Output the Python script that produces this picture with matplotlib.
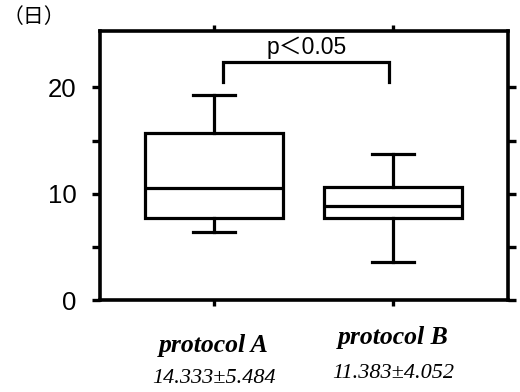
import matplotlib
matplotlib.use("Agg")
import matplotlib.pyplot as plt

categories = ["protocol A", "protocol B"]
summary = ["14.333±5.484", "11.383±4.052"]
whislo = [6.4, 3.6]
q1 = [7.7, 7.7]
med = [10.5, 8.8]
q3 = [15.7, 10.6]
whishi = [19.3, 13.7]
p_text = "p＜0.05"
y_unit = "（日）"

fig = plt.figure(figsize=(5.2, 3.92), dpi=100)
ax = fig.add_axes([100/520, 1-300/392, 408/520, 269/392])

stats = []
for i in range(len(categories)):
    stats.append(dict(med=med[i], q1=q1[i], q3=q3[i], whislo=whislo[i],
                      whishi=whishi[i], fliers=[], label=categories[i]))

lw = 2.3
ax.bxp(stats, positions=[1, 2], widths=0.77, showfliers=False,
       patch_artist=True,
       boxprops=dict(facecolor="white", edgecolor="black", linewidth=lw),
       medianprops=dict(color="black", linewidth=lw),
       whiskerprops=dict(color="black", linewidth=lw),
       capprops=dict(color="black", linewidth=lw),
       capwidths=0.235)

ax.set_xlim(0.363, 2.642)
ax.set_ylim(0, 25.3)

for s in ax.spines.values():
    s.set_linewidth(2.6)

ax.set_yticks([0, 5, 10, 15, 20])
ax.set_yticklabels(["0", "", "10", "", "20"], fontfamily="Liberation Sans", fontsize=18.5)
ax.tick_params(axis="y", which="both", direction="out", length=6, width=2.4,
               right=True, left=True, pad=11)
ax.set_xticks([1, 2])
ax.set_xticklabels(["", ""])
ax.tick_params(axis="x", direction="out", length=4, width=2.4, top=True, bottom=True)

# significance bracket
ax.plot([1.05, 1.05, 1.98, 1.98], [20.5, 22.4, 22.4, 20.5], color="black",
        linewidth=2.3, solid_joinstyle="miter", clip_on=False)
ax.text(1.52, 23.75, p_text, ha="center", va="center", fontsize=16.5,
        fontfamily=["Liberation Sans", "Noto Sans CJK JP"])

fig.text(3/520, 1-17/392, y_unit, ha="left", va="center",
         fontsize=15, fontfamily=["Noto Sans CJK JP", "DejaVu Sans"])

# x labels
label_y = [-0.17, -0.14]
stat_y = [-0.29, -0.275]
for i, c in enumerate(categories):
    ax.text(i + 1, label_y[i], c, transform=ax.get_xaxis_transform(), ha="center",
            va="center", fontsize=18.5, fontfamily="Liberation Serif",
            fontstyle="italic", fontweight="bold")
for i, s in enumerate(summary):
    ax.text(i + 1, stat_y[i], s, transform=ax.get_xaxis_transform(), ha="center",
            va="center", fontsize=16, fontfamily="Liberation Serif", fontstyle="italic")

fig.savefig("out.png", dpi=100)
